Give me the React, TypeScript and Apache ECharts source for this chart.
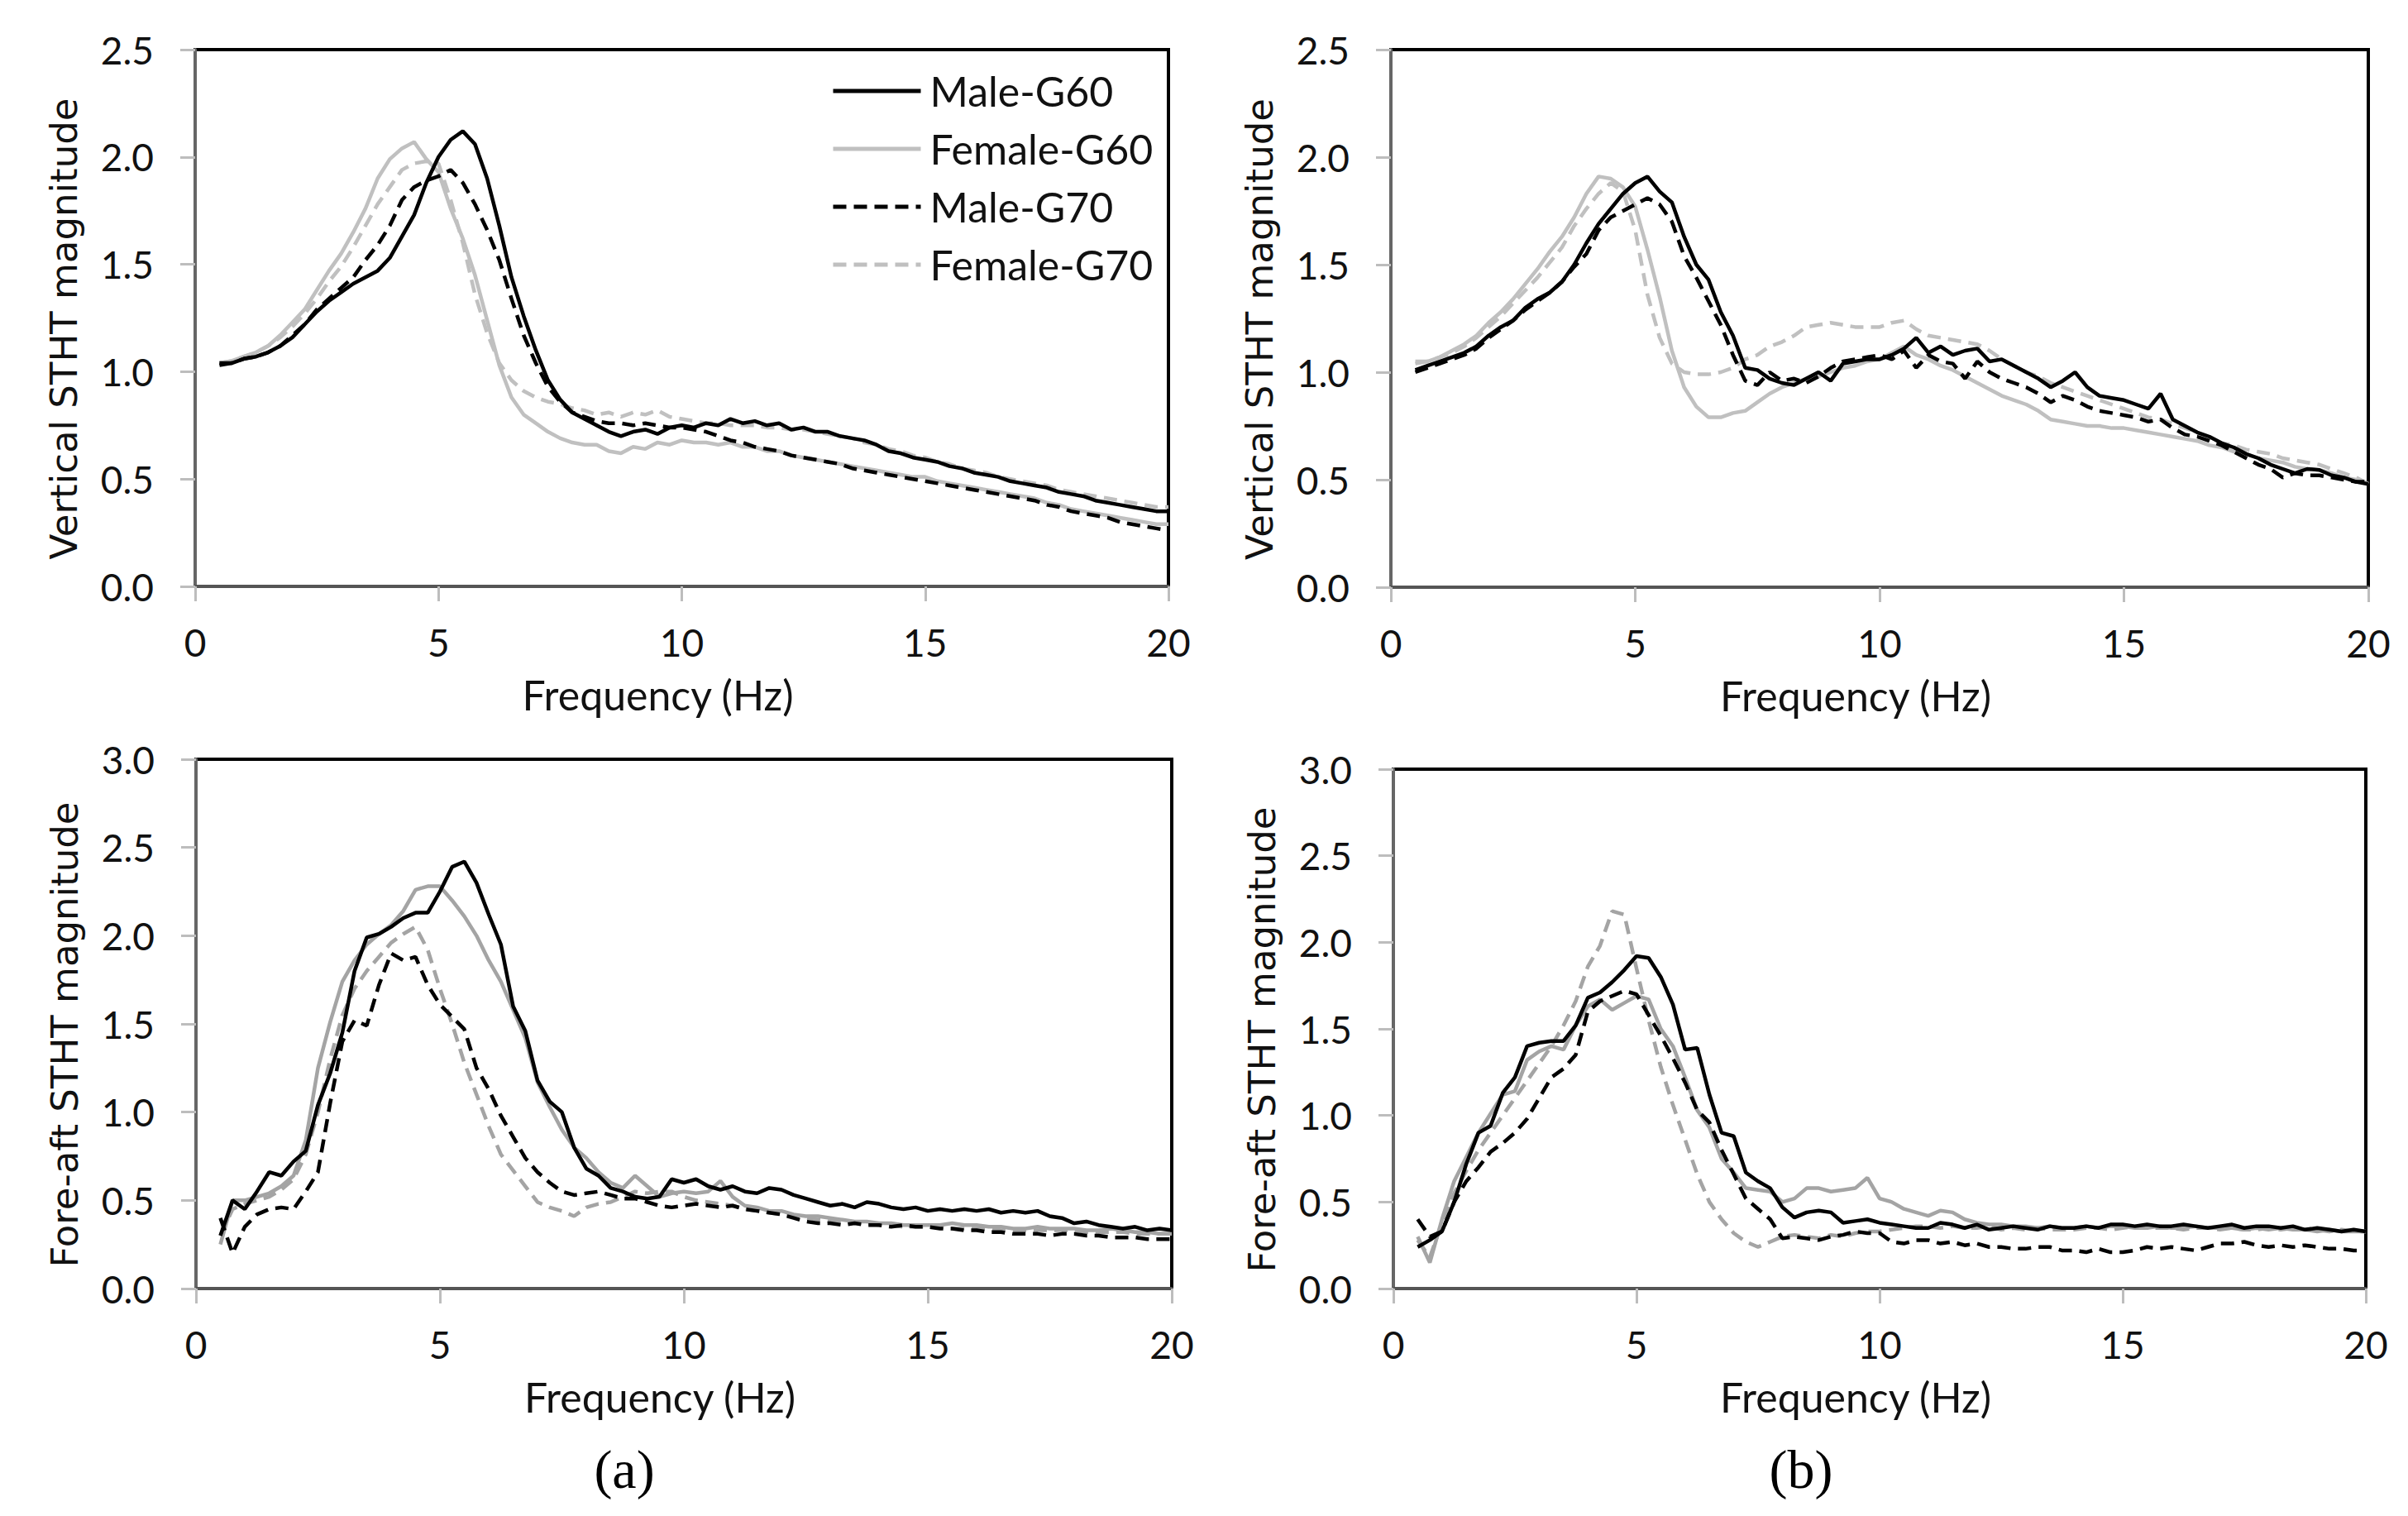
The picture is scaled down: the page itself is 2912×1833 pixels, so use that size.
import { useEffect, useRef } from 'react'
import * as echarts from 'echarts'

// frequency grid (Hz), 0.25 Hz steps
const FREQ = [
  0.5, 0.75,
  1, 1.25, 1.5, 1.75, 2, 2.25, 2.5, 2.75, 3, 3.25, 3.5, 3.75, 4, 4.25, 4.5, 4.75,
  5, 5.25, 5.5, 5.75, 6, 6.25, 6.5, 6.75, 7, 7.25, 7.5, 7.75, 8, 8.25, 8.5, 8.75,
  9, 9.25, 9.5, 9.75, 10, 10.25, 10.5, 10.75, 11, 11.25, 11.5, 11.75, 12, 12.25, 12.5, 12.75,
  13, 13.25, 13.5, 13.75, 14, 14.25, 14.5, 14.75, 15, 15.25, 15.5, 15.75, 16, 16.25, 16.5, 16.75,
  17, 17.25, 17.5, 17.75, 18, 18.25, 18.5, 18.75, 19, 19.25, 19.5, 19.75,
  20,
]

const SERIES_NAMES = ['Male-G60', 'Female-G60', 'Male-G70', 'Female-G70']
const X_TICKS = [0, 5, 10, 15, 20]
const Y_TICKS_VERTICAL = [0, 0.5, 1.0, 1.5, 2.0, 2.5]
const Y_TICKS_FOREAFT = [0, 0.5, 1.0, 1.5, 2.0, 2.5, 3.0]
const PANEL_LABELS = ['(a)', '(b)']

// (a) vertical
const vertMaleG60A = [
  1.03, 1.04,
  1.06, 1.07, 1.09, 1.12, 1.16, 1.22, 1.28, 1.33, 1.37, 1.41, 1.44, 1.47, 1.53, 1.63, 1.73, 1.88,
  2.0, 2.08, 2.12, 2.06, 1.9, 1.68, 1.44, 1.26, 1.1, 0.96, 0.87, 0.81, 0.78, 0.75, 0.72, 0.7,
  0.72, 0.73, 0.71, 0.74, 0.75, 0.74, 0.76, 0.75, 0.78, 0.76, 0.77, 0.75, 0.76, 0.73, 0.74, 0.72,
  0.72, 0.7, 0.69, 0.68, 0.66, 0.63, 0.62, 0.6, 0.59, 0.58, 0.56, 0.55, 0.53, 0.52, 0.51, 0.49,
  0.48, 0.47, 0.46, 0.44, 0.43, 0.42, 0.4, 0.39, 0.38, 0.37, 0.36, 0.35,
  0.35,
]
const vertFemaleG60A = [
  1.04, 1.05,
  1.07, 1.09, 1.12, 1.17, 1.23, 1.29, 1.38, 1.47, 1.55, 1.65, 1.76, 1.9, 1.99, 2.04, 2.07, 1.99,
  1.93, 1.76, 1.62, 1.45, 1.24, 1.03, 0.88, 0.8, 0.76, 0.72, 0.69, 0.67, 0.66, 0.66, 0.63, 0.62,
  0.65, 0.64, 0.67, 0.66, 0.68, 0.67, 0.67, 0.66, 0.67, 0.65, 0.65, 0.63, 0.63, 0.61, 0.6, 0.59,
  0.58, 0.57, 0.56, 0.55, 0.54, 0.53, 0.52, 0.51, 0.51, 0.49, 0.48, 0.47, 0.46, 0.45, 0.44, 0.43,
  0.42, 0.41, 0.39, 0.38, 0.36, 0.35, 0.34, 0.33, 0.32, 0.31, 0.3, 0.29,
  0.29,
]
const vertMaleG70A = [
  1.04, 1.04,
  1.06, 1.07, 1.09, 1.12, 1.17, 1.22, 1.29, 1.34, 1.39, 1.44, 1.52, 1.59, 1.68, 1.8, 1.86, 1.89,
  1.91, 1.94, 1.88, 1.78, 1.66, 1.52, 1.34, 1.17, 1.04, 0.93, 0.86, 0.81, 0.79, 0.77, 0.76, 0.76,
  0.75, 0.76, 0.75, 0.74, 0.74, 0.73, 0.72, 0.7, 0.68, 0.67, 0.65, 0.64, 0.63, 0.61, 0.6, 0.59,
  0.58, 0.57, 0.55, 0.54, 0.53, 0.52, 0.51, 0.5, 0.49, 0.48, 0.47, 0.46, 0.45, 0.44, 0.43, 0.42,
  0.41, 0.4, 0.38, 0.37, 0.35, 0.34, 0.33, 0.32, 0.3, 0.29, 0.28, 0.27,
  0.26,
]
const vertFemaleG70A = [
  1.04, 1.05,
  1.07, 1.09, 1.12, 1.16, 1.21, 1.27, 1.34, 1.42, 1.49, 1.58, 1.68, 1.78, 1.86, 1.94, 1.97, 1.98,
  1.97, 1.8, 1.6, 1.36, 1.18, 1.04, 0.96, 0.91, 0.88, 0.86, 0.85, 0.83, 0.82, 0.8, 0.81, 0.79,
  0.81, 0.8, 0.82, 0.79, 0.78, 0.77, 0.76, 0.76, 0.75, 0.75, 0.75, 0.74, 0.74, 0.73, 0.73, 0.72,
  0.71, 0.7, 0.69, 0.67, 0.66, 0.64, 0.63, 0.61, 0.6, 0.58, 0.57, 0.55, 0.54, 0.53, 0.51, 0.5,
  0.49, 0.48, 0.47, 0.45, 0.44, 0.43, 0.42, 0.41, 0.4, 0.39, 0.38, 0.37,
  0.37,
]

// (b) vertical
const vertMaleG60B = [
  1.01, 1.03,
  1.05, 1.07, 1.09, 1.12, 1.17, 1.21, 1.24, 1.3, 1.34, 1.37, 1.42, 1.5, 1.6, 1.69, 1.76, 1.83,
  1.88, 1.91, 1.84, 1.79, 1.63, 1.5, 1.43, 1.28, 1.17, 1.02, 1.01, 0.97, 0.95, 0.94, 0.97, 1.0,
  0.96, 1.04, 1.05, 1.06, 1.06, 1.08, 1.11, 1.16, 1.09, 1.12, 1.08, 1.1, 1.11, 1.05, 1.06, 1.03,
  1.0, 0.97, 0.93, 0.96, 1.0, 0.93, 0.89, 0.88, 0.87, 0.85, 0.83, 0.9, 0.78, 0.75, 0.72, 0.7,
  0.67, 0.65, 0.62, 0.6, 0.57, 0.55, 0.53, 0.55, 0.545, 0.52, 0.51, 0.49,
  0.48,
]
const vertFemaleG60B = [
  1.04, 1.05,
  1.07, 1.1, 1.13, 1.17, 1.23, 1.28, 1.34, 1.41, 1.48, 1.56, 1.63, 1.72, 1.83, 1.91, 1.9, 1.86,
  1.77, 1.57, 1.35, 1.1, 0.93, 0.84, 0.79, 0.79, 0.81, 0.82, 0.86, 0.9, 0.93, 0.95, 0.97, 0.98,
  1.0, 1.02, 1.03, 1.05, 1.06, 1.09, 1.12, 1.08, 1.06, 1.03, 1.01, 0.98, 0.95, 0.92, 0.89, 0.87,
  0.85, 0.82, 0.78, 0.77, 0.76, 0.75, 0.75, 0.74, 0.74, 0.73, 0.72, 0.71, 0.7, 0.69, 0.68, 0.66,
  0.65, 0.63, 0.62, 0.6, 0.59, 0.58, 0.56, 0.55, 0.545, 0.53, 0.51, 0.5,
  0.48,
]
const vertMaleG70B = [
  1.0, 1.02,
  1.04, 1.06, 1.08, 1.11, 1.16, 1.2, 1.24, 1.29, 1.33, 1.37, 1.42, 1.49, 1.55, 1.66, 1.72, 1.75,
  1.78, 1.81, 1.78, 1.7, 1.54, 1.44, 1.33, 1.22, 1.08, 0.96, 0.94, 1.0, 0.96, 0.97, 0.95, 0.98,
  1.02, 1.05, 1.06, 1.07, 1.08, 1.06, 1.1, 1.02, 1.08, 1.05, 1.04, 0.97, 1.05, 1.0, 0.97, 0.95,
  0.93, 0.9, 0.86, 0.89, 0.87, 0.84, 0.82, 0.81, 0.8, 0.79, 0.77, 0.78, 0.74, 0.71, 0.7, 0.68,
  0.66, 0.63, 0.6, 0.57, 0.55, 0.51, 0.53, 0.52, 0.52, 0.51, 0.5, 0.49,
  0.49,
]
const vertFemaleG70B = [
  1.05, 1.05,
  1.07, 1.09, 1.12, 1.16, 1.21, 1.26, 1.32, 1.38, 1.44, 1.51, 1.58, 1.68, 1.76, 1.83, 1.88, 1.84,
  1.66, 1.36, 1.16, 1.04, 1.0, 0.99, 0.99, 1.0, 1.02, 1.06, 1.08, 1.12, 1.14, 1.17, 1.21, 1.22,
  1.23, 1.22, 1.21, 1.21, 1.21, 1.23, 1.24, 1.2, 1.17, 1.16, 1.15, 1.14, 1.13, 1.1, 1.06, 1.03,
  1.0, 0.98, 0.95, 0.93, 0.91, 0.89, 0.87, 0.85, 0.83, 0.81, 0.79, 0.78, 0.76, 0.74, 0.72, 0.69,
  0.67, 0.66, 0.64, 0.63, 0.62, 0.6, 0.59, 0.58, 0.57, 0.55, 0.53, 0.51,
  0.48,
]

// (a) fore-aft
const foreMaleG60A = [
  0.3, 0.5,
  0.45, 0.55, 0.66, 0.64, 0.72, 0.78, 1.04, 1.22, 1.45, 1.8, 1.99, 2.01, 2.05, 2.1, 2.13, 2.13,
  2.25, 2.39, 2.42, 2.3, 2.12, 1.95, 1.6, 1.46, 1.18, 1.06, 1.0, 0.8, 0.68, 0.64, 0.57, 0.55,
  0.52, 0.51, 0.52, 0.62, 0.6, 0.62, 0.58, 0.56, 0.58, 0.55, 0.54, 0.57, 0.56, 0.53, 0.51, 0.49,
  0.47, 0.48, 0.46, 0.49, 0.48, 0.46, 0.45, 0.46, 0.44, 0.45, 0.44, 0.45, 0.44, 0.45, 0.43, 0.44,
  0.43, 0.44, 0.41, 0.4, 0.37, 0.38, 0.36, 0.35, 0.34, 0.35, 0.33, 0.34,
  0.33,
]
const foreFemaleG60A = [
  0.25, 0.5,
  0.5, 0.52, 0.54, 0.58, 0.64, 0.84, 1.25, 1.51, 1.74, 1.86, 1.95, 2.01, 2.06, 2.14, 2.26, 2.28,
  2.28, 2.2, 2.11, 2.0, 1.86, 1.74, 1.58, 1.42, 1.17, 1.03, 0.9, 0.8, 0.74, 0.66, 0.6, 0.57,
  0.64, 0.58, 0.52, 0.54, 0.55, 0.54, 0.55, 0.61, 0.52, 0.47, 0.46, 0.44, 0.44, 0.42, 0.41, 0.41,
  0.4, 0.39, 0.38, 0.38, 0.37, 0.37, 0.36, 0.36, 0.36, 0.36, 0.37, 0.36, 0.36, 0.35, 0.35, 0.34,
  0.34, 0.35, 0.34, 0.34, 0.34, 0.33, 0.33, 0.34, 0.33, 0.32, 0.32, 0.31,
  0.31,
]
const foreMaleG70A = [
  0.4, 0.2,
  0.35, 0.42, 0.45, 0.46, 0.45, 0.55, 0.66, 1.05, 1.4, 1.52, 1.49, 1.72, 1.9, 1.86, 1.88, 1.72,
  1.61, 1.54, 1.47, 1.25, 1.13, 0.98, 0.86, 0.74, 0.66, 0.6, 0.55, 0.53, 0.54, 0.55, 0.53, 0.51,
  0.51, 0.49, 0.47, 0.46, 0.47, 0.48, 0.47, 0.46, 0.47, 0.45, 0.44, 0.43, 0.42, 0.4, 0.38, 0.37,
  0.37, 0.36, 0.37, 0.36, 0.36, 0.35, 0.36, 0.35, 0.35, 0.34, 0.34, 0.33, 0.33, 0.32, 0.32, 0.31,
  0.31, 0.31, 0.3, 0.31, 0.31, 0.3, 0.3, 0.29, 0.29, 0.29, 0.28, 0.28,
  0.28,
]
const foreFemaleG70A = [
  0.3, 0.45,
  0.48, 0.5, 0.52, 0.56, 0.62, 0.76, 1.0, 1.3, 1.55, 1.7, 1.8, 1.88, 1.96, 2.01, 2.05, 1.92,
  1.7, 1.5, 1.28, 1.1, 0.92, 0.76, 0.67, 0.58, 0.49, 0.46, 0.44, 0.41, 0.46, 0.48, 0.49, 0.52,
  0.55, 0.54, 0.55, 0.55, 0.52, 0.5, 0.49, 0.48, 0.47, 0.45, 0.44, 0.43, 0.42, 0.41, 0.4, 0.39,
  0.38, 0.38, 0.37, 0.37, 0.36, 0.36, 0.35, 0.35, 0.35, 0.35, 0.34, 0.34, 0.34, 0.34, 0.33, 0.33,
  0.33, 0.33, 0.33, 0.33, 0.33, 0.32, 0.32, 0.32, 0.32, 0.31, 0.31, 0.31,
  0.31,
]

// (b) fore-aft
const foreMaleG60B = [
  0.24, 0.28,
  0.33, 0.5, 0.72, 0.9, 0.94, 1.13, 1.22, 1.4, 1.42, 1.43, 1.43, 1.52, 1.68, 1.71, 1.77, 1.84,
  1.92, 1.91, 1.8, 1.64, 1.38, 1.39, 1.12, 0.9, 0.88, 0.67, 0.62, 0.58, 0.47, 0.41, 0.44, 0.45,
  0.44, 0.38, 0.39, 0.4, 0.38, 0.37, 0.36, 0.35, 0.35, 0.38, 0.37, 0.35, 0.37, 0.34, 0.35, 0.36,
  0.35, 0.34, 0.36, 0.35, 0.35, 0.36, 0.35, 0.37, 0.37, 0.36, 0.37, 0.36, 0.36, 0.37, 0.36, 0.35,
  0.36, 0.37, 0.35, 0.36, 0.36, 0.35, 0.36, 0.34, 0.35, 0.34, 0.33, 0.34,
  0.33,
]
const foreFemaleG60B = [
  0.3, 0.15,
  0.4, 0.62, 0.76, 0.9, 1.01, 1.12, 1.14, 1.32, 1.37, 1.4, 1.38, 1.52, 1.63, 1.67, 1.61, 1.65,
  1.69, 1.67, 1.5, 1.4, 1.22, 1.03, 0.93, 0.75, 0.67, 0.58, 0.57, 0.56, 0.5, 0.52, 0.58, 0.58,
  0.56, 0.57, 0.58, 0.64, 0.52, 0.5, 0.46, 0.44, 0.42, 0.45, 0.44, 0.4, 0.38, 0.37, 0.37, 0.36,
  0.36, 0.35, 0.36, 0.35, 0.35, 0.36, 0.35, 0.36, 0.36, 0.35, 0.35, 0.36, 0.35, 0.35, 0.36, 0.35,
  0.35, 0.35, 0.34, 0.35, 0.34, 0.35, 0.34, 0.34, 0.33, 0.34, 0.33, 0.33,
  0.33,
]
const foreMaleG70B = [
  0.4, 0.3,
  0.33, 0.5, 0.62, 0.7, 0.79, 0.84, 0.9, 0.98, 1.1, 1.22, 1.27, 1.35, 1.6, 1.66, 1.69, 1.72,
  1.7, 1.58, 1.46, 1.33, 1.19, 1.03, 0.96, 0.8, 0.66, 0.52, 0.46, 0.4, 0.29, 0.3, 0.29, 0.28,
  0.3, 0.31, 0.33, 0.32, 0.32, 0.27, 0.26, 0.28, 0.28, 0.26, 0.27, 0.25, 0.26, 0.24, 0.24, 0.23,
  0.23, 0.24, 0.24, 0.22, 0.22, 0.21, 0.23, 0.21, 0.21, 0.22, 0.24, 0.23, 0.24, 0.23, 0.22, 0.24,
  0.26, 0.26, 0.27, 0.25, 0.24, 0.25, 0.24, 0.25, 0.24, 0.23, 0.23, 0.22,
  0.22,
]
const foreFemaleG70B = [
  0.28, 0.18,
  0.38, 0.55, 0.68, 0.8, 0.9, 1.0, 1.1, 1.2, 1.3, 1.4, 1.52, 1.66, 1.86, 1.98, 2.18, 2.16,
  1.85, 1.55, 1.28, 1.06, 0.86, 0.66, 0.5, 0.4, 0.32, 0.27, 0.24, 0.27, 0.3, 0.31, 0.3, 0.29,
  0.31, 0.3, 0.32, 0.33, 0.33, 0.34, 0.35, 0.36, 0.36, 0.35, 0.36, 0.35, 0.35, 0.36, 0.34, 0.35,
  0.34, 0.35, 0.34, 0.34, 0.34, 0.35, 0.35, 0.34, 0.35, 0.36, 0.35, 0.35, 0.35, 0.34, 0.35, 0.35,
  0.34, 0.35, 0.34, 0.34, 0.35, 0.34, 0.35, 0.34, 0.34, 0.33, 0.34, 0.33,
  0.33,
]

const TICK_FONT = 'Lato, "Open Sans", sans-serif'

const pairs = (values: number[]) => FREQ.map((f, i) => [f, values[i]])

export default function App() {
  const chartRef = useRef<HTMLDivElement | null>(null)

  useEffect(() => {
    if (!chartRef.current) {
      return
    }
    document.body.style.margin = '0'

    const chart = echarts.init(chartRef.current, null, { renderer: 'svg' })

    const grids = [
      { left: 236, top: 60, width: 1177, height: 649 },
      { left: 1682, top: 60, width: 1182, height: 650 },
      { left: 237, top: 918, width: 1180, height: 640 },
      { left: 1685, top: 930, width: 1176, height: 628 },
    ]

    const panels = [
      { title: 'Vertical STHT magnitude', ticks: Y_TICKS_VERTICAL, lightGray: '#c0c0c0', data: [vertMaleG60A, vertFemaleG60A, vertMaleG70A, vertFemaleG70A] },
      { title: 'Vertical STHT magnitude', ticks: Y_TICKS_VERTICAL, lightGray: '#c0c0c0', data: [vertMaleG60B, vertFemaleG60B, vertMaleG70B, vertFemaleG70B] },
      { title: 'Fore-aft STHT magnitude', ticks: Y_TICKS_FOREAFT, lightGray: '#a4a4a4', data: [foreMaleG60A, foreFemaleG60A, foreMaleG70A, foreFemaleG70A] },
      { title: 'Fore-aft STHT magnitude', ticks: Y_TICKS_FOREAFT, lightGray: '#a4a4a4', data: [foreMaleG60B, foreFemaleG60B, foreMaleG70B, foreFemaleG70B] },
    ]

    const series: any[] = []
    panels.forEach((panel, p) => {
      // draw gray lines first so the black ones sit on top
      ;[3, 1, 2, 0].forEach((k) => {
        const black = k === 0 || k === 2
        const color = black ? '#000000' : panel.lightGray
        series.push({
          type: 'line',
          name: SERIES_NAMES[k],
          xAxisIndex: p,
          yAxisIndex: p,
          data: pairs(panel.data[k]),
          symbol: 'none',
          showSymbol: false,
          silent: true,
          itemStyle: { color },
          lineStyle: { color, width: 4.5, type: k >= 2 ? [16, 9] : 'solid' },
        })
      })
    })

    chart.setOption({
      animation: false,
      backgroundColor: '#ffffff',
      grid: grids.map((g) => ({ ...g, show: true, borderColor: '#000000', borderWidth: 4 })),
      xAxis: grids.map((_, p) => ({
        type: 'value',
        gridIndex: p,
        min: X_TICKS[0],
        max: X_TICKS[X_TICKS.length - 1],
        interval: 5,
        axisLine: { onZero: false, lineStyle: { color: '#555555', width: 4 } },
        axisTick: { show: true, length: 18, lineStyle: { color: '#bdbdbd', width: 3 } },
        axisLabel: { fontFamily: TICK_FONT, fontSize: 46, color: '#111111', margin: 44 },
        splitLine: { show: false },
        name: 'Frequency (Hz)',
        nameLocation: 'middle',
        nameGap: 106,
        nameTextStyle: { fontFamily: TICK_FONT, fontSize: 50, color: '#111111', padding: [0, 58, 0, 0] },
      })),
      yAxis: panels.map((panel, p) => ({
        type: 'value',
        gridIndex: p,
        min: 0,
        max: panel.ticks[panel.ticks.length - 1],
        interval: 0.5,
        axisLine: { show: true, onZero: false, lineStyle: { color: '#666666', width: 4 } },
        axisTick: { show: true, length: 18, lineStyle: { color: '#bdbdbd', width: 3 } },
        axisLabel: {
          fontFamily: TICK_FONT,
          fontSize: 46,
          color: '#111111',
          margin: 50,
          formatter: (v: number) => v.toFixed(1),
        },
        splitLine: { show: false },
        name: panel.title,
        nameLocation: 'middle',
        nameRotate: 90,
        nameGap: 136,
        nameTextStyle: {
          fontFamily: '"DejaVu Sans", Verdana, sans-serif',
          fontSize: 45,
          color: '#111111',
          padding: [0, 26, 0, 0],
        },
      })),
      legend: {
        data: SERIES_NAMES,
        orient: 'vertical',
        left: 1000,
        top: 80,
        itemWidth: 106,
        itemHeight: 20,
        itemGap: 20,
        selectedMode: false,
        itemStyle: { opacity: 0 },
        lineStyle: { width: 5 },
        textStyle: { fontFamily: TICK_FONT, fontSize: 50, color: '#111111', padding: [0, 0, 0, 6] },
      },
      graphic: PANEL_LABELS.map((label, i) => ({
        type: 'text',
        x: i === 0 ? 755 : 2178,
        y: 1776,
        style: {
          text: label,
          fill: '#000000',
          font: '66px "Liberation Serif", "Times New Roman", serif',
          align: 'center',
          verticalAlign: 'middle',
          textAlign: 'center',
          textVerticalAlign: 'middle',
        },
      })),
      series,
    })

    return () => {
      chart.dispose()
    }
  }, [])

  return <div ref={chartRef} style={{ width: 2912, height: 1833 }} />
}
